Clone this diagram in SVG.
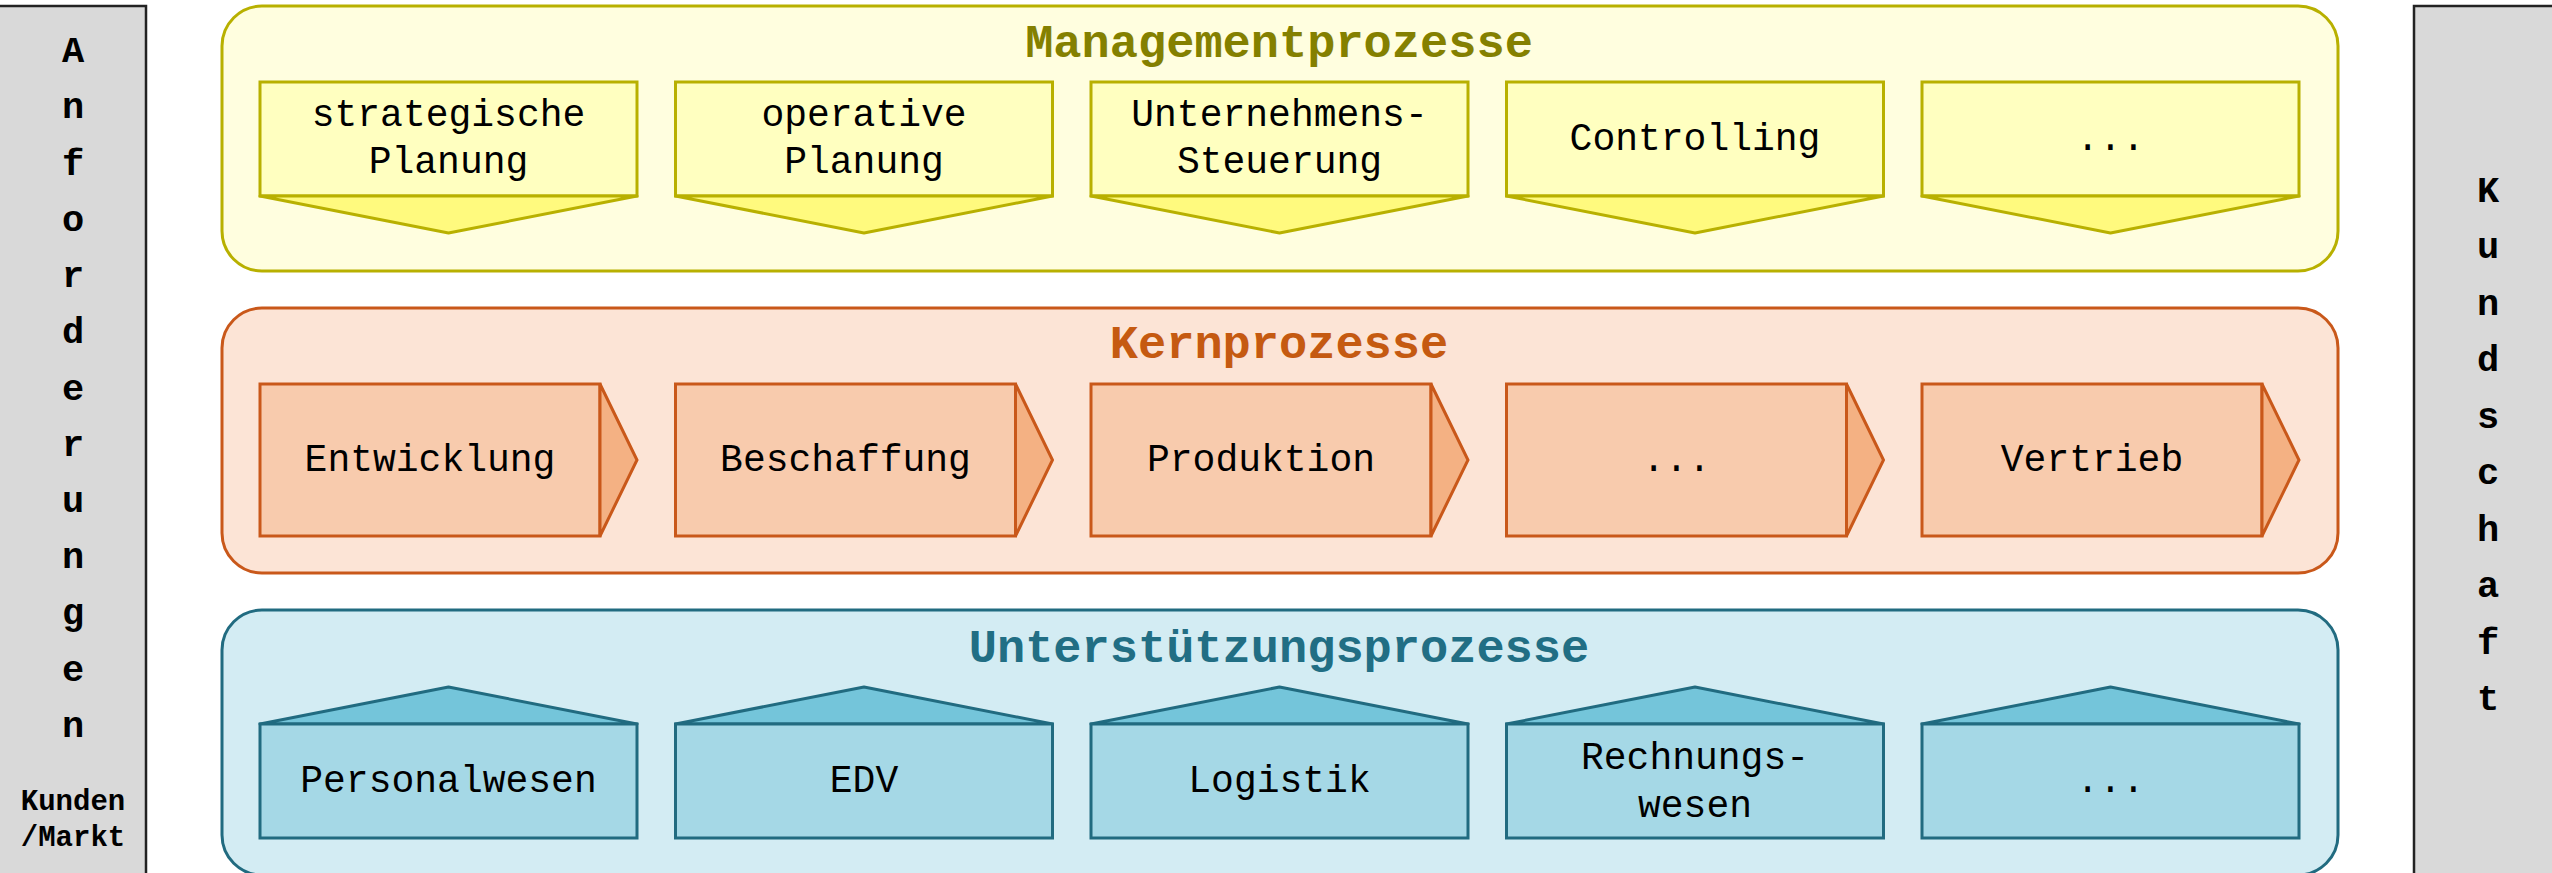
<svg xmlns="http://www.w3.org/2000/svg" width="2552" height="873" viewBox="0 0 2552 873">
<style>
.side{fill:#D9D9D9;stroke:#222;stroke-width:2.5}
.sl{font-family:"Liberation Mono","DejaVu Sans Mono",monospace;font-weight:bold;font-size:37px;fill:#000;text-anchor:middle}
.sm{font-family:"Liberation Mono","DejaVu Sans Mono",monospace;font-weight:bold;font-size:29px;fill:#000;text-anchor:middle}
.title{font-family:"Liberation Mono","DejaVu Sans Mono",monospace;font-weight:bold;font-size:47px;text-anchor:middle}
.lbl{font-family:"Liberation Mono","DejaVu Sans Mono",monospace;font-size:38px;fill:#000;text-anchor:middle}
.cy{fill:#FFFEDF;stroke:#B8B000;stroke-width:3}
.by{fill:#FFFFC0;stroke:#B8B000;stroke-width:3}
.ay{fill:#FFFA7E;stroke:#B8B000;stroke-width:3;stroke-linejoin:round}
.co{fill:#FCE4D6;stroke:#C9581A;stroke-width:3}
.bo{fill:#F8CBAD;stroke:#C9581A;stroke-width:3}
.ao{fill:#F4B183;stroke:#C9581A;stroke-width:3;stroke-linejoin:miter}
.cb{fill:#D3ECF3;stroke:#216B80;stroke-width:3}
.bb{fill:#A5D8E6;stroke:#216B80;stroke-width:3}
.ab{fill:#74C5DA;stroke:#216B80;stroke-width:3;stroke-linejoin:round}
</style>
<rect width="2552" height="873" fill="#FFFFFF"/>

<g id="anforderungen">
<rect class="side" x="-4" y="6" width="150" height="880"/>
<text class="sl" x="73" y="62">A</text>
<text class="sl" x="73" y="118">n</text>
<text class="sl" x="73" y="175">f</text>
<text class="sl" x="73" y="231">o</text>
<text class="sl" x="73" y="287">r</text>
<text class="sl" x="73" y="343">d</text>
<text class="sl" x="73" y="400">e</text>
<text class="sl" x="73" y="456">r</text>
<text class="sl" x="73" y="512">u</text>
<text class="sl" x="73" y="568">n</text>
<text class="sl" x="73" y="624">g</text>
<text class="sl" x="73" y="681">e</text>
<text class="sl" x="73" y="737">n</text>
<text class="sm" x="73" y="810">Kunden</text>
<text class="sm" x="73" y="846">/Markt</text>
</g>

<g id="kundschaft">
<rect class="side" x="2414" y="6" width="150" height="880"/>
<text class="sl" x="2488" y="202">K</text>
<text class="sl" x="2488" y="258">u</text>
<text class="sl" x="2488" y="315">n</text>
<text class="sl" x="2488" y="371">d</text>
<text class="sl" x="2488" y="428">s</text>
<text class="sl" x="2488" y="484">c</text>
<text class="sl" x="2488" y="541">h</text>
<text class="sl" x="2488" y="597">a</text>
<text class="sl" x="2488" y="654">f</text>
<text class="sl" x="2488" y="710">t</text>
</g>

<g id="managementprozesse">
<rect class="cy" x="222" y="6" width="2116" height="265" rx="40" ry="40"/>
<text class="title" x="1279" y="57" fill="#848000">Managementprozesse</text>
</g>
<g id="m1">
<rect class="by" x="260" y="82" width="377" height="114"/>
<polygon class="ay" points="260,196 448.5,233 637,196"/>
<text class="lbl" x="448.5" y="126">strategische</text>
<text class="lbl" x="448.5" y="173">Planung</text>
</g>
<g id="m2">
<rect class="by" x="675.5" y="82" width="377" height="114"/>
<polygon class="ay" points="675.5,196 864,233 1052.5,196"/>
<text class="lbl" x="864" y="126">operative</text>
<text class="lbl" x="864" y="173">Planung</text>
</g>
<g id="m3">
<rect class="by" x="1091" y="82" width="377" height="114"/>
<polygon class="ay" points="1091,196 1279.5,233 1468,196"/>
<text class="lbl" x="1279.5" y="126">Unternehmens-</text>
<text class="lbl" x="1279.5" y="173">Steuerung</text>
</g>
<g id="m4">
<rect class="by" x="1506.5" y="82" width="377" height="114"/>
<polygon class="ay" points="1506.5,196 1695,233 1883.5,196"/>
<text class="lbl" x="1695" y="150">Controlling</text>
</g>
<g id="m5">
<rect class="by" x="1922" y="82" width="377" height="114"/>
<polygon class="ay" points="1922,196 2110.5,233 2299,196"/>
<text class="lbl" x="2110.5" y="150">...</text>
</g>

<g id="kernprozesse">
<rect class="co" x="222" y="308" width="2116" height="265" rx="40" ry="40"/>
<text class="title" x="1279" y="358" fill="#C55A11">Kernprozesse</text>
</g>
<g id="k1">
<rect class="bo" x="260" y="384" width="340" height="152"/>
<polygon class="ao" points="600,384 637,460 600,536"/>
<text class="lbl" x="430" y="471">Entwicklung</text>
</g>
<g id="k2">
<rect class="bo" x="675.5" y="384" width="340" height="152"/>
<polygon class="ao" points="1015.5,384 1052.5,460 1015.5,536"/>
<text class="lbl" x="845.5" y="471">Beschaffung</text>
</g>
<g id="k3">
<rect class="bo" x="1091" y="384" width="340" height="152"/>
<polygon class="ao" points="1431,384 1468,460 1431,536"/>
<text class="lbl" x="1261" y="471">Produktion</text>
</g>
<g id="k4">
<rect class="bo" x="1506.5" y="384" width="340" height="152"/>
<polygon class="ao" points="1846.5,384 1883.5,460 1846.5,536"/>
<text class="lbl" x="1676.5" y="471">...</text>
</g>
<g id="k5">
<rect class="bo" x="1922" y="384" width="340" height="152"/>
<polygon class="ao" points="2262,384 2299,460 2262,536"/>
<text class="lbl" x="2092" y="471">Vertrieb</text>
</g>

<g id="unterstuetzungsprozesse">
<rect class="cb" x="222" y="610" width="2116" height="265" rx="40" ry="40"/>
<text class="title" x="1279" y="662" fill="#216E84">Unterstützungsprozesse</text>
</g>
<g id="u1">
<polygon class="ab" points="260,724 448.5,687 637,724"/>
<rect class="bb" x="260" y="724" width="377" height="114"/>
<text class="lbl" x="448.5" y="792">Personalwesen</text>
</g>
<g id="u2">
<polygon class="ab" points="675.5,724 864,687 1052.5,724"/>
<rect class="bb" x="675.5" y="724" width="377" height="114"/>
<text class="lbl" x="864" y="792">EDV</text>
</g>
<g id="u3">
<polygon class="ab" points="1091,724 1279.5,687 1468,724"/>
<rect class="bb" x="1091" y="724" width="377" height="114"/>
<text class="lbl" x="1279.5" y="792">Logistik</text>
</g>
<g id="u4">
<polygon class="ab" points="1506.5,724 1695,687 1883.5,724"/>
<rect class="bb" x="1506.5" y="724" width="377" height="114"/>
<text class="lbl" x="1695" y="769">Rechnungs-</text>
<text class="lbl" x="1695" y="817">wesen</text>
</g>
<g id="u5">
<polygon class="ab" points="1922,724 2110.5,687 2299,724"/>
<rect class="bb" x="1922" y="724" width="377" height="114"/>
<text class="lbl" x="2110.5" y="792">...</text>
</g>

<g id="connectors"/>
</svg>
